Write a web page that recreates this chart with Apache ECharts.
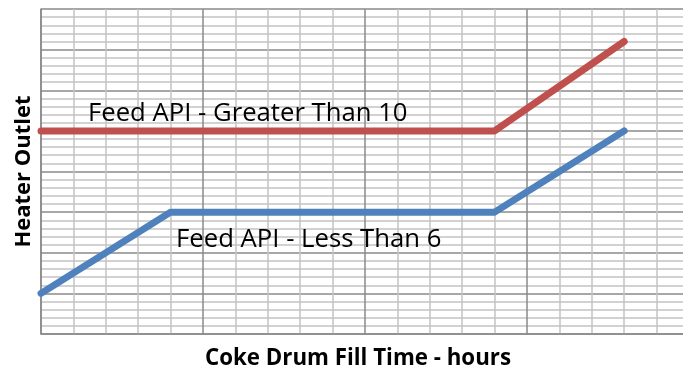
<!DOCTYPE html>
<html>
<head>
<meta charset="utf-8">
<script src="https://cdn.jsdelivr.net/npm/echarts@6/dist/echarts.min.js"></script>
<style>
  html, body { margin: 0; padding: 0; background: #fff; }
  #chart { width: 683px; height: 374px; }
</style>
</head>
<body>
<div id="chart"></div>
<script>
// Heater outlet temperature profiles versus coke drum fill time
const highApiTime = [0, 14, 18];
const highApiOutlet = [25, 25, 36];
const lowApiTime = [0, 4, 14, 18];
const lowApiOutlet = [5, 15, 15, 25];

const seriesNames = ['Feed API - Greater Than 10', 'Feed API - Less Than 6'];
// where each curve's caption starts (left edge, vertical middle)
const captionAnchors = [[1.45, 27.1], [4.17, 11.6]];

const xTitle = 'Coke Drum Fill Time - hours';
const yTitle = 'Heater Outlet';

const toPairs = (xs, ys) => xs.map((x, i) => [x, ys[i]]);

const chart = echarts.init(document.getElementById('chart'), null, { renderer: 'canvas' });

const majorLine = { show: true, lineStyle: { color: '#8a8a8a', width: 1.5 } };
const minorLine = { show: true, lineStyle: { color: '#c4c4c4', width: 1.5 } };

function caption(i) {
  return {
    symbol: 'circle',
    symbolSize: 0,
    silent: true,
    label: {
      show: true,
      position: 'right',
      distance: 0,
      formatter: seriesNames[i],
      color: '#000',
      fontFamily: 'Open Sans',
      fontSize: 25.7
    },
    data: [{ coord: captionAnchors[i] }]
  };
}

chart.setOption({
  animation: false,
  backgroundColor: '#fff',
  // the plot runs slightly past the right edge of the canvas
  grid: { left: 41, top: 9, width: 648, height: 325, containLabel: false, outerBoundsMode: 'none' },
  xAxis: {
    type: 'value',
    min: 0,
    max: 20,
    interval: 5,
    name: xTitle,
    nameLocation: 'middle',
    nameGap: 14,
    nameTextStyle: { fontFamily: 'Open Sans', fontWeight: 'bold', fontSize: 22.3, color: '#000', padding: [0, 14, 0, 0] },
    axisLine: { show: true, lineStyle: { color: '#8a8a8a', width: 1.5 } },
    axisTick: { show: false },
    axisLabel: { show: false },
    splitLine: majorLine,
    minorTick: { show: false, splitNumber: 5 },
    minorSplitLine: minorLine
  },
  yAxis: {
    type: 'value',
    min: 0,
    max: 40,
    interval: 5,
    name: yTitle,
    nameLocation: 'middle',
    nameGap: 6,
    nameRotate: 90,
    nameTextStyle: { fontFamily: 'Open Sans', fontWeight: 'bold', fontSize: 22, color: '#000' },
    axisLine: { show: true, lineStyle: { color: '#8a8a8a', width: 1.5 } },
    axisTick: { show: false },
    axisLabel: { show: false },
    splitLine: majorLine,
    minorTick: { show: false, splitNumber: 5 },
    minorSplitLine: minorLine
  },
  series: [
    {
      name: seriesNames[0],
      type: 'line',
      data: toPairs(highApiTime, highApiOutlet),
      showSymbol: false,
      symbol: 'none',
      lineStyle: { color: '#c0504d', width: 7, cap: 'round', join: 'round' },
      markPoint: caption(0),
      z: 3
    },
    {
      name: seriesNames[1],
      type: 'line',
      data: toPairs(lowApiTime, lowApiOutlet),
      showSymbol: false,
      symbol: 'none',
      lineStyle: { color: '#4f81bd', width: 7, cap: 'round', join: 'round' },
      markPoint: caption(1),
      z: 3
    }
  ]
});
</script>
</body>
</html>
